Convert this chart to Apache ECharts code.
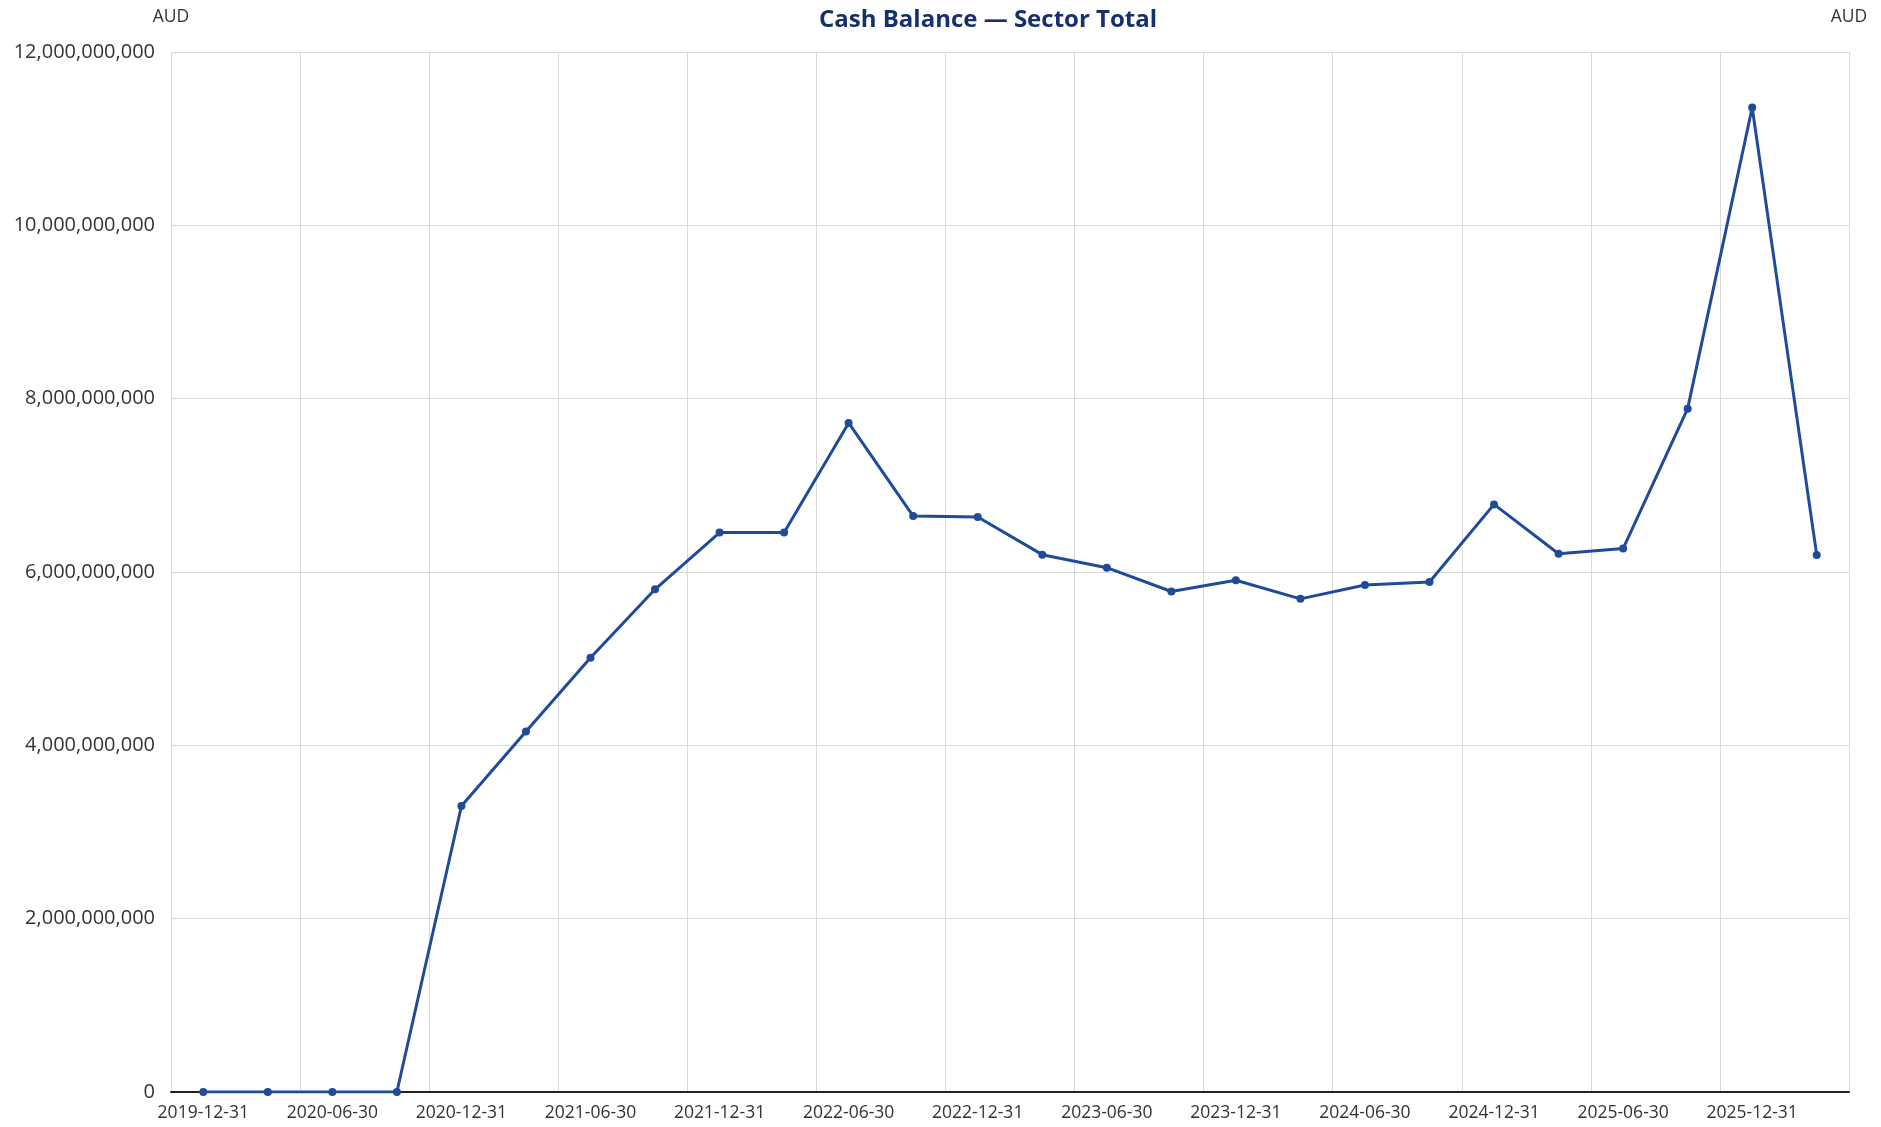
<!DOCTYPE html>
<html>
<head>
<meta charset="utf-8">
<title>Cash Balance — Sector Total</title>
<script src="https://cdn.jsdelivr.net/npm/echarts@6/dist/echarts.min.js"></script>
<style>
  html, body { margin: 0; padding: 0; background: #fff; }
  #chart { width: 1881px; height: 1127px; }
</style>
</head>
<body>
<div id="chart"></div>
<script>
// quarter-end dates
const quarters = [
  '2019-12-31', '2020-03-31', '2020-06-30', '2020-09-30',
  '2020-12-31', '2021-03-31', '2021-06-30', '2021-09-30',
  '2021-12-31', '2022-03-31', '2022-06-30', '2022-09-30',
  '2022-12-31', '2023-03-31', '2023-06-30', '2023-09-30',
  '2023-12-31', '2024-03-31', '2024-06-30', '2024-09-30',
  '2024-12-31', '2025-03-31', '2025-06-30', '2025-09-30',
  '2025-12-31', '2026-03-31'
]

// cash balance, AUD
const cashBalance = [
  0, 0, 0, 0,
  3.30e9, 4.16e9, 5.01e9, 5.80e9,
  6.455e9, 6.455e9, 7.72e9, 6.645e9,
  6.635e9, 6.20e9, 6.05e9, 5.775e9,
  5.905e9, 5.69e9, 5.85e9, 5.885e9,
  6.78e9, 6.21e9, 6.27e9, 7.885e9,
  11.36e9, 6.195e9
]

const yMin = 0
const yMax = 12e9
const yStep = 2e9

const font = 'Open Sans'
const lineColor = '#1f4b99'
const gridColor = '#d9d9d9'

const chart = echarts.init(document.getElementById('chart'))
chart.setOption({
  animation: false,
  title: {
    text: 'Cash Balance — Sector Total',
    left: 983,
    top: 3,
    textAlign: 'center',
    textStyle: { fontFamily: font, fontSize: 24, fontWeight: 'bold', color: '#16306e' }
  },
  grid: { left: 171, right: 32, top: 52, bottom: 35 },
  xAxis: {
    type: 'category',
    data: quarters,
    boundaryGap: true,
    axisLine: { lineStyle: { color: '#222', width: 2 } },
    axisTick: { show: false, interval: 1 },
    axisLabel: { interval: 1, margin: 12, fontFamily: font, fontSize: 17.5, color: '#333' },
    splitLine: { show: true, interval: 1, lineStyle: { color: gridColor, width: 1 } }
  },
  yAxis: [
    {
      type: 'value',
      min: yMin,
      max: yMax,
      interval: yStep,
      name: 'AUD',
      nameGap: 26,
      nameTextStyle: { fontFamily: font, fontSize: 17.5, color: '#333' },
      axisLine: { show: false },
      axisTick: { show: false },
      axisLabel: {
        margin: 16,
        fontFamily: font,
        fontSize: 20,
        color: '#333',
        formatter: v => v.toLocaleString('en-US')
      },
      splitLine: { lineStyle: { color: gridColor, width: 1 } }
    },
    {
      type: 'value',
      position: 'right',
      min: yMin,
      max: yMax,
      interval: yStep,
      name: 'AUD',
      nameGap: 26,
      nameTextStyle: { fontFamily: font, fontSize: 17.5, color: '#333' },
      axisLine: { show: false },
      axisTick: { show: false },
      axisLabel: { show: false },
      splitLine: { show: false }
    }
  ],
  series: [{
    name: 'Cash Balance',
    type: 'line',
    data: cashBalance,
    symbol: 'circle',
    symbolSize: 8,
    lineStyle: { color: lineColor, width: 3 },
    itemStyle: { color: lineColor }
  }]
})
</script>
</body>
</html>
